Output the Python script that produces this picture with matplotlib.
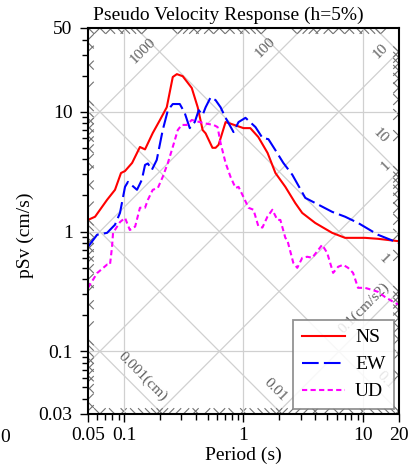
import numpy as np
import matplotlib.pyplot as plt
from matplotlib.ticker import FixedLocator, NullFormatter, LogLocator

plt.rcParams['font.family'] = ['Liberation Serif', 'DejaVu Serif']

# pseudo velocity response, h=5%
ns_period = [0.05, 0.0573, 0.0722, 0.0841, 0.0944, 0.102, 0.117, 0.136, 0.150, 0.174,
             0.200, 0.228, 0.256, 0.277, 0.310, 0.369, 0.414, 0.455, 0.482, 0.550,
             0.584, 0.619, 0.708, 0.825, 1.0, 1.14, 1.33, 1.59, 1.85, 2.24,
             2.71, 3.10, 3.98, 5.52, 7.08, 10.4, 13.3, 20.0]
ns_psv = [1.25, 1.33, 1.84, 2.23, 3.08, 3.2, 3.74, 5.08, 4.85, 6.64,
          8.53, 10.9, 19.5, 20.6, 19.8, 15.8, 10.9, 7.04, 6.6, 5.0,
          5.0, 5.3, 8.2, 7.8, 7.3, 7.3, 6.15, 4.53, 3.08, 2.36,
          1.73, 1.43, 1.18, 0.975, 0.886, 0.886, 0.87, 0.83]

ew_period = [0.05, 0.0596, 0.0722, 0.0841, 0.0926, 0.102, 0.108, 0.1285, 0.141, 0.150,
             0.1585, 0.171, 0.188, 0.211, 0.233, 0.256, 0.293, 0.322, 0.355, 0.391,
             0.422, 0.455, 0.482, 0.531, 0.584, 0.643, 0.708, 0.825, 0.909, 1.039,
             1.259, 1.44, 1.616, 1.848, 2.154, 2.56, 3.288, 3.981, 5.522, 7.079,
             9.085, 13.34, 20.0]
ew_psv = [0.746, 0.94, 0.975, 1.14, 1.43, 2.36, 2.6, 2.23, 2.7, 3.6,
          3.7, 3.27, 3.96, 7.04, 10.3, 11.6, 11.6, 9.8, 7.3, 8.2,
          10.3, 9.4, 10.9, 13.2, 12.5, 10.9, 8.9, 6.77, 8.2, 8.9,
          7.45, 6.05, 5.9, 4.78, 3.74, 2.98, 1.91, 1.73, 1.46, 1.33,
          1.18, 0.94, 0.80]

ud_period = [0.05, 0.0596, 0.0722, 0.0764, 0.0794, 0.081, 0.0926, 0.102, 0.112, 0.124,
             0.136, 0.150, 0.1585, 0.174, 0.192, 0.211, 0.233, 0.256, 0.282, 0.304,
             0.335, 0.369, 0.43, 0.473, 0.562, 0.607, 0.643, 0.708, 0.779, 0.858,
             0.909, 1.0, 1.101, 1.212, 1.334, 1.44, 1.585, 1.744, 1.92, 2.034,
             2.239, 2.326, 2.61, 2.818, 3.103, 3.415, 3.758, 4.549, 5.012, 5.623,
             6.19, 6.813, 7.499, 8.254, 9.085, 10.38, 11.88, 13.34, 15.22, 18.48, 20.0]
ud_psv = [0.339, 0.45, 0.53, 0.53, 0.74, 0.975, 1.2, 1.30, 1.03, 1.1,
          1.58, 1.58, 1.84, 2.23, 2.31, 2.86, 3.74, 5.08, 7.04, 7.76,
          7.76, 8.53, 8.2, 8.0, 7.76, 7.45, 5.48, 3.74, 2.86, 2.31,
          2.36, 1.94, 1.58, 1.52, 1.10, 1.08, 1.33, 1.52, 1.25, 1.25,
          0.886, 0.85, 0.548, 0.498, 0.604, 0.616, 0.604, 0.774, 0.664, 0.452,
          0.508, 0.528, 0.498, 0.452, 0.339, 0.339, 0.326, 0.314, 0.285, 0.254, 0.245]

# tripartite grid: acceleration (cm/s2) and displacement (cm)
acc_major = [0.01, 0.1, 1, 10, 100, 1000, 10000]
disp_major = [0.0001, 0.001, 0.01, 0.1, 1, 10, 100, 1000]
acc_lab_val = [1000, 100, 10, 1, 0.1]
acc_lab_txt = ['1000', '100', '10', '1', '0.1(cm/s2)']
acc_lab_per = [0.144, 1.52, 14.1, 15.6, 10.2]
disp_lab_val = [0.001, 0.01, 0.1, 1, 10]
disp_lab_txt = ['0.001(cm)', '0.01', '0.1', '1', '10']
disp_lab_per = [0.144, 1.85, 15.3, 15.0, 14.1]

x_ticks = [0.05, 0.1, 1, 10, 20]
x_ticklabels = ['0.05', '0.1', '1', '10', '20']
y_ticks = [0.03, 0.1, 1, 10, 50]
y_ticklabels = ['0.03', '0.1', '1', '10', '50']

tmin, tmax = 0.05, 20
smin, smax = 0.03, 50
tp = 2 * np.pi

fig = plt.figure(figsize=(4.12, 4.74), dpi=100)
ax = fig.add_axes([88/412, 1-414/474, 311/412, 386/474])
ax.set_xscale('log')
ax.set_yscale('log')
ax.set_xlim(tmin, tmax)
ax.set_ylim(smin, smax)

lx0, lx1 = np.log10(tmin), np.log10(tmax)
ly0, ly1 = np.log10(smin), np.log10(smax)


def diag_span(c, s):
    # log Sv = c + s*log T, clipped to the frame
    if s > 0:
        a, b = ly0 - c, ly1 - c
    else:
        a, b = c - ly1, c - ly0
    a, b = max(a, lx0), min(b, lx1)
    if a >= b:
        return None
    return a, b


def seg(c, s, a, b, **kw):
    xs = np.array([a, b])
    ax.plot(10**xs, 10**(c + s*xs), **kw)


grid_kw = dict(color='#d0d0d0', lw=0.9, zorder=1)
tick_kw = dict(color='#707070', lw=0.8, zorder=1)
d = 0.045

for n in range(-5, 5):
    for k in range(1, 10):
        v = k * 10.0**n
        for c, s, major in [(np.log10(v/tp), 1, acc_major), (np.log10(v*tp), -1, disp_major)]:
            sp = diag_span(c, s)
            if sp is None:
                continue
            a, b = sp
            if k == 1 and any(np.isclose(v, m) for m in major):
                seg(c, s, a, b, **grid_kw)
            seg(c, s, a, min(a + d, b), **tick_kw)
            seg(c, s, max(b - d, a), b, **tick_kw)

for v in [0.1, 1, 10]:
    ax.axvline(v, **grid_kw)
    ax.axhline(v, **grid_kw)

lab_kw = dict(color='#606060', fontsize=11, ha='center', va='center',
              rotation_mode='anchor', clip_on=True, zorder=2)
for v, t, p in zip(acc_lab_val, acc_lab_txt, acc_lab_per):
    ax.text(p, v*p/tp*1.42, t, rotation=45, **lab_kw)
for v, t, p in zip(disp_lab_val, disp_lab_txt, disp_lab_per):
    ax.text(p, v*tp/p*1.40, t, rotation=-45, **lab_kw)

ax.plot(ns_period, ns_psv, color='#ff0000', lw=1.5, label='NS', zorder=4)
ax.plot(ew_period, ew_psv, color='#0000ff', lw=1.5, dashes=(8, 2.5), label='EW', zorder=4)
ax.plot(ud_period, ud_psv, color='#ff00ff', lw=1.5, dashes=(2.5, 1.6), label='UD', zorder=4)

ax.xaxis.set_major_locator(FixedLocator(x_ticks))
ax.set_xticklabels(x_ticklabels)
ax.xaxis.set_minor_locator(LogLocator(base=10, subs=np.arange(2, 10)))
ax.xaxis.set_minor_formatter(NullFormatter())
ax.yaxis.set_major_locator(FixedLocator(y_ticks))
ax.set_yticklabels(y_ticklabels)
ax.yaxis.set_minor_locator(LogLocator(base=10, subs=np.arange(2, 10)))
ax.yaxis.set_minor_formatter(NullFormatter())

ax.tick_params(which='both', direction='out', labelsize=14, width=1)
ax.tick_params(which='major', length=6)
ax.tick_params(which='minor', length=4.5)
ax.tick_params(axis='x', which='major', pad=3)
ax.tick_params(axis='y', which='major', pad=5)
for sp in ax.spines.values():
    sp.set_linewidth(1.5)
    sp.set_zorder(6)

ax.set_xlabel('Period (s)', fontsize=14)
ax.xaxis.set_label_coords(0.5, -0.085)
ax.set_ylabel('pSv (cm/s)', fontsize=14)
ax.yaxis.set_label_coords(-0.174, 0.4637)

fig.text(228/412, 1-20/474, 'Pseudo Velocity Response (h=5%)', fontsize=14,
         ha='center', va='baseline')
fig.text(0.5/412, 1-429/474, '0', fontsize=14, ha='left', va='top')

leg = ax.legend(loc='lower right', fontsize=14, handlelength=2.25, handletextpad=0.5,
                borderpad=0.45, labelspacing=0.48, borderaxespad=0.25,
                fancybox=False, framealpha=0.85, edgecolor='#808080')
leg.get_frame().set_linewidth(1.3)
leg.set_zorder(5)

fig.savefig('out.png', dpi=100)
